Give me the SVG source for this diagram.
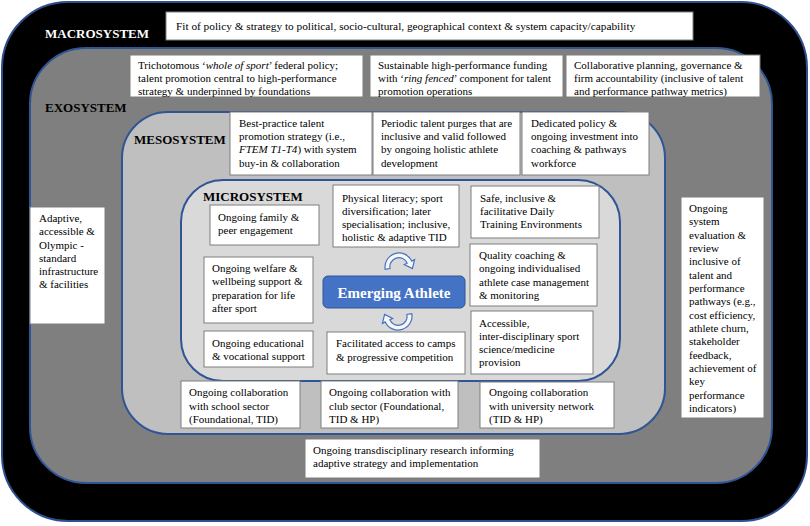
<svg xmlns="http://www.w3.org/2000/svg" width="810" height="526" viewBox="0 0 810 526">
<style>
.t{font-family:"Liberation Serif","Times New Roman",serif;font-size:11px;fill:#000}
.lab{font-family:"Liberation Serif","Times New Roman",serif;font-size:13px;font-weight:bold}
.box{fill:#fff;stroke:#7f7f7f;stroke-width:1}
.arr{fill:#f7f7f7;stroke:#4472c4;stroke-width:1.2}
</style>
<defs>
<path id="circ" d="M-13.8,2.4 A14,14 0 0 1 12.7,-5.9 L15.6,-7.3 L13.4,1.6 L5.3,-2.5 L8.2,-3.8 A9,9 0 0 0 -8.9,1.6 Z"/>
</defs>
<g id="macrosystem">
<rect x="2" y="2" width="805" height="519" rx="66" fill="#000" stroke="#2f4f8f" stroke-width="2"/>
<text class="lab" x="45" y="38" fill="#fff">MACROSYSTEM</text>
</g>
<g id="exosystem">
<rect x="30" y="48" width="742" height="435" rx="56" fill="#7f7f7f" stroke="#2f5597" stroke-width="2"/>
<text class="lab" x="45" y="112" fill="#000">EXOSYSTEM</text>
</g>
<g id="mesosystem">
<rect x="122" y="112" width="543" height="322" rx="46" fill="#bfbfbf" stroke="#2f5597" stroke-width="2"/>
<text class="lab" x="134" y="144" fill="#000">MESOSYSTEM</text>
</g>
<g id="microsystem">
<rect x="181" y="180" width="439" height="201" rx="42" fill="#d9d9d9" stroke="#2f5597" stroke-width="2"/>
<text class="lab" x="203" y="201" fill="#000">MICROSYSTEM</text>
</g>

<g id="macro-fit">
<rect class="box" x="166" y="12" width="527" height="28"/>
<text class="t" x="176" y="30" style="font-size:11.3px">Fit of policy &amp; strategy to political, socio-cultural, geographical context &amp; system capacity/capability</text>
</g>

<g id="exo-policy">
<rect class="box" x="130" y="55" width="233" height="42"/>
<text class="t" x="138" y="69">Trichotomous ‘<tspan font-style="italic">whole of sport</tspan>’ federal policy;</text>
<text class="t" x="138" y="82">talent promotion central to high-performance</text>
<text class="t" x="138" y="95">strategy &amp; underpinned by foundations</text>
</g>
<g id="exo-funding">
<rect class="box" x="370" y="55" width="193" height="42"/>
<text class="t" x="378" y="69">Sustainable high-performance funding</text>
<text class="t" x="378" y="82">with ‘<tspan font-style="italic">ring fenced</tspan>’ component for talent</text>
<text class="t" x="378" y="95">promotion operations</text>
</g>
<g id="exo-governance">
<rect class="box" x="566" y="55" width="194" height="42"/>
<text class="t" x="574" y="69">Collaborative planning, governance &amp;</text>
<text class="t" x="574" y="82">firm accountability (inclusive of talent</text>
<text class="t" x="574" y="95">and performance pathway metrics)</text>
</g>
<g id="exo-infrastructure">
<rect class="box" x="30" y="207" width="75" height="117"/>
<text class="t" x="39" y="222">Adaptive,</text>
<text class="t" x="39" y="235">accessible &amp;</text>
<text class="t" x="39" y="249">Olympic -</text>
<text class="t" x="39" y="262">standard</text>
<text class="t" x="39" y="275">infrastructure</text>
<text class="t" x="39" y="288">&amp; facilities</text>
</g>
<g id="exo-evaluation">
<rect class="box" x="681" y="197" width="83" height="221"/>
<text class="t" x="689" y="212">Ongoing</text>
<text class="t" x="689" y="225">system</text>
<text class="t" x="689" y="239">evaluation &amp;</text>
<text class="t" x="689" y="252">review</text>
<text class="t" x="689" y="265">inclusive of</text>
<text class="t" x="689" y="279">talent and</text>
<text class="t" x="689" y="292">performance</text>
<text class="t" x="689" y="305">pathways (e.g.,</text>
<text class="t" x="689" y="319">cost efficiency,</text>
<text class="t" x="689" y="332">athlete churn,</text>
<text class="t" x="689" y="345">stakeholder</text>
<text class="t" x="689" y="359">feedback,</text>
<text class="t" x="689" y="372">achievement of</text>
<text class="t" x="689" y="385">key</text>
<text class="t" x="689" y="399">performance</text>
<text class="t" x="689" y="412">indicators)</text>
</g>
<g id="exo-research">
<rect class="box" x="305" y="439" width="235" height="39"/>
<text class="t" x="313" y="454">Ongoing transdisciplinary research informing</text>
<text class="t" x="313" y="467">adaptive strategy and implementation</text>
</g>

<g id="meso-strategy">
<rect class="box" x="230" y="112" width="142" height="63"/>
<text class="t" x="239" y="127">Best-practice talent</text>
<text class="t" x="239" y="140">promotion strategy (i.e.,</text>
<text class="t" x="239" y="153"><tspan font-style="italic">FTEM T1-T4</tspan>) with system</text>
<text class="t" x="239" y="167">buy-in &amp; collaboration</text>
</g>
<g id="meso-purges">
<rect class="box" x="373" y="112" width="147" height="63"/>
<text class="t" x="381" y="127">Periodic talent purges that are</text>
<text class="t" x="381" y="140">inclusive and valid followed</text>
<text class="t" x="381" y="153">by ongoing holistic athlete</text>
<text class="t" x="381" y="167">development</text>
</g>
<g id="meso-workforce">
<rect class="box" x="522" y="112" width="127" height="63"/>
<text class="t" x="531" y="127">Dedicated policy &amp;</text>
<text class="t" x="531" y="140">ongoing investment into</text>
<text class="t" x="531" y="153">coaching &amp; pathways</text>
<text class="t" x="531" y="167">workforce</text>
</g>
<g id="meso-school">
<rect class="box" x="181" y="381" width="119" height="47"/>
<text class="t" x="189" y="396">Ongoing collaboration</text>
<text class="t" x="189" y="410">with school sector</text>
<text class="t" x="189" y="423">(Foundational, TID)</text>
</g>
<g id="meso-club">
<rect class="box" x="321" y="381" width="137" height="47"/>
<text class="t" x="329" y="396">Ongoing collaboration with</text>
<text class="t" x="329" y="410">club sector (Foundational,</text>
<text class="t" x="329" y="423">TID &amp; HP)</text>
</g>
<g id="meso-university">
<rect class="box" x="480" y="382" width="134" height="46"/>
<text class="t" x="489" y="396">Ongoing collaboration</text>
<text class="t" x="489" y="410">with university network</text>
<text class="t" x="489" y="423">(TID &amp; HP)</text>
</g>

<g id="micro-family">
<rect class="box" x="210" y="205" width="109" height="40"/>
<text class="t" x="218" y="221">Ongoing family &amp;</text>
<text class="t" x="218" y="234">peer engagement</text>
</g>
<g id="micro-welfare">
<rect class="box" x="204" y="257" width="109" height="66"/>
<text class="t" x="212" y="272">Ongoing welfare &amp;</text>
<text class="t" x="212" y="285">wellbeing support &amp;</text>
<text class="t" x="212" y="299">preparation for life</text>
<text class="t" x="212" y="312">after sport</text>
</g>
<g id="micro-education">
<rect class="box" x="204" y="331" width="109" height="36"/>
<text class="t" x="212" y="347">Ongoing educational</text>
<text class="t" x="212" y="360">&amp; vocational support</text>
</g>
<g id="micro-literacy">
<rect class="box" x="333" y="185" width="126" height="62"/>
<text class="t" x="342" y="202">Physical literacy; sport</text>
<text class="t" x="342" y="215">diversification; later</text>
<text class="t" x="342" y="228">specialisation; inclusive,</text>
<text class="t" x="342" y="241">holistic &amp; adaptive TID</text>
</g>
<g id="micro-dte">
<rect class="box" x="471" y="186" width="128" height="52"/>
<text class="t" x="480" y="202">Safe, inclusive &amp;</text>
<text class="t" x="480" y="215">facilitative Daily</text>
<text class="t" x="480" y="228">Training Environments</text>
</g>
<g id="micro-coaching">
<rect class="box" x="470" y="244" width="127" height="62"/>
<text class="t" x="479" y="259">Quality coaching &amp;</text>
<text class="t" x="479" y="272">ongoing individualised</text>
<text class="t" x="479" y="286">athlete case management</text>
<text class="t" x="479" y="299">&amp; monitoring</text>
</g>
<g id="micro-science">
<rect class="box" x="471" y="311" width="122" height="63"/>
<text class="t" x="479" y="327">Accessible,</text>
<text class="t" x="479" y="340">inter-disciplinary sport</text>
<text class="t" x="479" y="353">science/medicine</text>
<text class="t" x="479" y="366">provision</text>
</g>
<g id="micro-competition">
<rect class="box" x="327" y="332" width="138" height="42"/>
<text class="t" x="336" y="347">Facilitated access to camps</text>
<text class="t" x="336" y="361">&amp; progressive competition</text>
</g>
<g id="athlete">
<rect x="323" y="276" width="142" height="32" rx="5" fill="#4472c4" stroke="#2f5597" stroke-width="1"/>
<text x="394" y="298" text-anchor="middle" style="font-family:'Liberation Serif','Times New Roman',serif;font-size:15px;font-weight:bold;fill:#fff">Emerging Athlete</text>
</g>
<g id="connectors">
<use href="#circ" class="arr" transform="translate(399,267)"/>
<use href="#circ" class="arr" transform="translate(398,316) rotate(180)"/>
</g>
</svg>
